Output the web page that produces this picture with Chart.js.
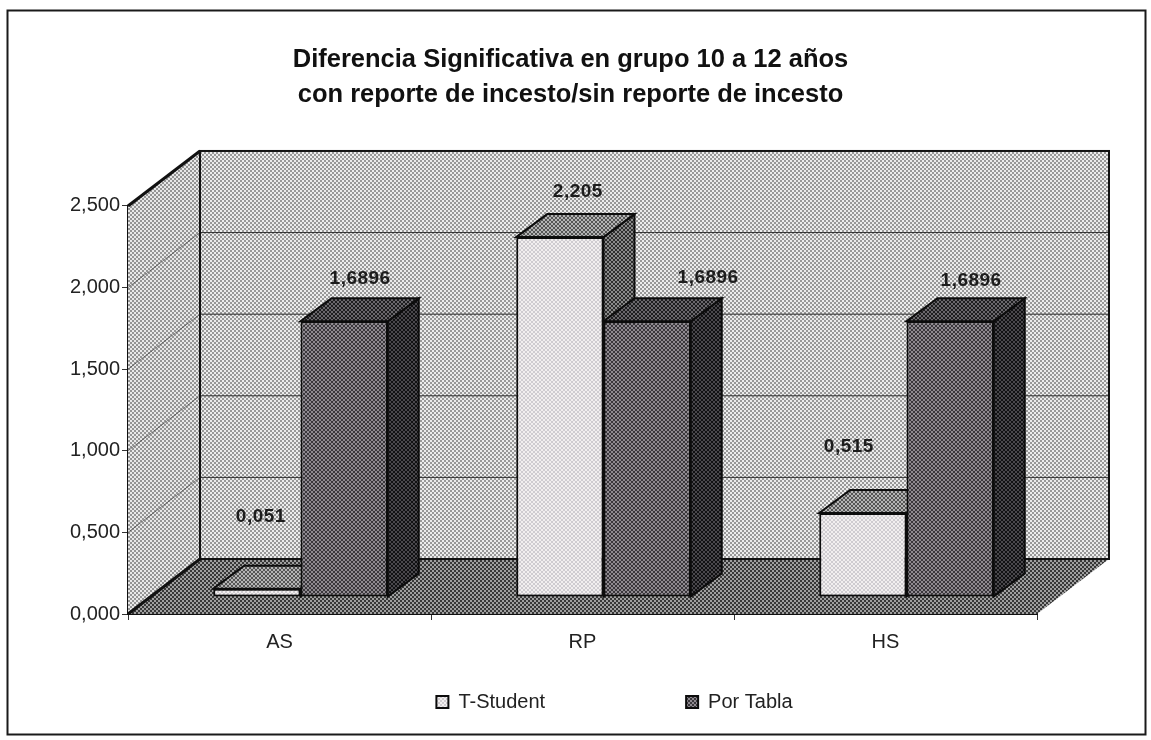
<!DOCTYPE html>
<html>
<head>
<meta charset="utf-8">
<style>html,body{margin:0;padding:0;background:#fff}canvas{display:block}</style>
<script src="https://cdn.jsdelivr.net/npm/chart.js@4"></script>
</head>
<body>
<canvas id="c" width="1151" height="740"></canvas>
<script>
const categories = ['AS', 'RP', 'HS'];
const tStudent = [0.051, 2.205, 0.515];
const porTabla = [1.6896, 1.6896, 1.6896];
const tStudentLabels = ['0,051', '2,205', '0,515'];
const porTablaLabels = ['1,6896', '1,6896', '1,6896'];
const seriesNames = ['T-Student', 'Por Tabla'];
const titleLines = ['Diferencia Significativa en grupo 10 a 12 años', 'con reporte de incesto/sin reporte de incesto'];

function dither(light, dark) {
  const p = document.createElement('canvas');
  p.width = 4; p.height = 4;
  const g = p.getContext('2d');
  g.fillStyle = light; g.fillRect(0, 0, 4, 4);
  g.fillStyle = dark; g.fillRect(0, 0, 2, 2); g.fillRect(2, 2, 2, 2);
  return g.createPattern(p, 'repeat');
}
const fills = {
  wall: dither('#ececec', '#989898'),
  side: dither('#e8e8e8', '#949494'),
  floor: dither('#a0a0a0', '#383838'),
  front: [dither('#f2efef', '#cfccd0'), dither('#8f8a90', '#3a373c')],
  top: [dither('#b4b4b4', '#555555'), dither('#6a686c', '#1e1e20')],
  right: [dither('#8a8a8a', '#2e2e2e'), dither('#4a484c', '#111113')]
};

const DEPTH = {x: 72, y: -55};
const BAR_DEPTH = {x: 31, y: -23};
const BAR_SHIFT = {x: 21, y: -17};
const LABEL_NUDGE = [
  [{x: 4, y: -72}, {x: 18, y: -45}, {x: -14, y: -66}],
  [{x: 16, y: -42}, {x: 61, y: -43}, {x: 21, y: -40}]
];

function poly(c, pts, fill, stroke, lw) {
  c.beginPath();
  pts.forEach((p, i) => i ? c.lineTo(p[0], p[1]) : c.moveTo(p[0], p[1]));
  c.closePath();
  if (fill) { c.fillStyle = fill; c.fill(); }
  if (stroke) { c.strokeStyle = stroke; c.lineWidth = lw || 1; c.stroke(); }
}

const scene3d = {
  id: 'scene3d',
  afterLayout(chart) {
    chart.titleBlock.left += 52; chart.titleBlock.right += 52;
    chart.legend.left += 96; chart.legend.right += 96;
    chart.legend.top = 702 - 10 - chart.options.plugins.legend.labels.padding;
  },
  beforeDraw(chart) {
    const c = chart.ctx;
    c.save();
    c.fillStyle = '#ffffff'; c.fillRect(0, 0, chart.width, chart.height);
    c.strokeStyle = '#1a1a1a'; c.lineWidth = 2;
    c.strokeRect(7.5, 10.5, 1138, 724);
    c.restore();
  },
  beforeDatasetsDraw(chart) {
    const c = chart.ctx, a = chart.chartArea, yS = chart.scales.y;
    const dx = DEPTH.x, dy = DEPTH.y;
    c.save();
    poly(c, [[a.left, a.top], [a.left + dx, a.top + dy], [a.left + dx, a.bottom + dy], [a.left, a.bottom]], fills.side);
    poly(c, [[a.left + dx, a.top + dy], [a.right + dx, a.top + dy], [a.right + dx, a.bottom + dy], [a.left + dx, a.bottom + dy]], fills.wall);
    poly(c, [[a.left, a.bottom], [a.right, a.bottom], [a.right + dx, a.bottom + dy], [a.left + dx, a.bottom + dy]], fills.floor);
    yS.ticks.forEach(t => {
      const y = yS.getPixelForValue(t.value);
      if (t.value > 0 && t.value < yS.max) {
        c.beginPath();
        c.moveTo(a.left, y); c.lineTo(a.left + dx, y + dy);
        c.strokeStyle = 'rgba(40,40,40,0.55)'; c.lineWidth = 1; c.stroke();
        c.beginPath();
        c.moveTo(a.left + dx, y + dy); c.lineTo(a.right + dx, y + dy);
        c.strokeStyle = 'rgba(20,20,20,0.85)'; c.stroke();
      }
    });
    c.strokeStyle = '#111'; c.lineWidth = 2;
    c.strokeRect(a.left + dx, a.top + dy, a.right - a.left, a.bottom - a.top);
    c.lineWidth = 3;
    c.beginPath(); c.moveTo(a.left, a.top); c.lineTo(a.left + dx, a.top + dy); c.stroke();
    c.beginPath(); c.moveTo(a.left, a.bottom); c.lineTo(a.left + dx, a.bottom + dy); c.stroke();
    // bar sides and tops: T-Student first, Por Tabla over it; fronts follow from the library
    c.translate(BAR_SHIFT.x, BAR_SHIFT.y);
    const bx = BAR_DEPTH.x, by = BAR_DEPTH.y;
    [0, 1].forEach(i => {
      chart.getDatasetMeta(i).data.forEach(el => {
        const l = el.x - el.width / 2, r = el.x + el.width / 2, t = el.y, b = el.base;
        poly(c, [[r, t], [r + bx, t + by], [r + bx, b + by], [r, b]], fills.right[i], '#0c0c0c', 2);
        poly(c, [[l, t], [r, t], [r + bx, t + by], [l + bx, t + by]], fills.top[i], '#0c0c0c', 2);
      });
    });
    c.restore();
  },
  beforeDatasetDraw(chart) {
    chart.ctx.save();
    chart.ctx.translate(BAR_SHIFT.x, BAR_SHIFT.y);
  },
  afterDatasetDraw(chart) {
    chart.ctx.restore();
  },
  afterDatasetsDraw(chart) {
    const c = chart.ctx;
    c.save();
    c.font = 'bold 19px "Liberation Sans"';
    c.letterSpacing = '0.5px';
    c.textAlign = 'center'; c.textBaseline = 'middle';
    c.fillStyle = '#1c1c1c';
    [tStudentLabels, porTablaLabels].forEach((labels, i) => {
      chart.getDatasetMeta(i).data.forEach((el, j) => {
        const n = LABEL_NUDGE[i][j];
        c.fillText(labels[j], el.x + BAR_SHIFT.x + n.x, el.y + BAR_SHIFT.y + n.y);
      });
    });
    c.restore();
  }
};

new Chart(document.getElementById('c'), {
  type: 'bar',
  data: {
    labels: categories,
    datasets: [
      {label: seriesNames[0], data: tStudent, backgroundColor: fills.front[0], borderColor: '#0c0c0c', borderWidth: 2, borderSkipped: false},
      {label: seriesNames[1], data: porTabla, backgroundColor: fills.front[1], borderColor: '#0c0c0c', borderWidth: 2, borderSkipped: false}
    ]
  },
  options: {
    responsive: false,
    animation: false,
    devicePixelRatio: 1,
    layout: {padding: {left: 0, right: 114, top: 0, bottom: 0}},
    datasets: {bar: {categoryPercentage: 0.576, barPercentage: 1}},
    plugins: {
      title: {
        display: true,
        text: titleLines,
        color: '#111',
        font: {family: '"Liberation Sans"', size: 25.5, weight: 'bold', lineHeight: 1.372},
        padding: {top: 42, bottom: 94}
      },
      legend: {
        display: true,
        position: 'bottom',
        maxHeight: 30,
        labels: {
          boxWidth: 12, boxHeight: 12, padding: 141,
          color: '#222',
          font: {family: '"Liberation Sans"', size: 20}
        }
      },
      tooltip: {enabled: false}
    },
    scales: {
      x: {
        offset: true,
        afterFit(s) { s.height = 96; },
        border: {color: '#111', width: 2},
        grid: {offset: true, drawOnChartArea: false, drawTicks: true, tickLength: 6, color: '#333'},
        ticks: {color: '#222', padding: 10, font: {family: '"Liberation Sans"', size: 20}}
      },
      y: {
        min: 0, max: 2.5,
        afterFit(s) { s.width = 128; },
        border: {color: '#111', width: 2},
        grid: {drawOnChartArea: false, drawTicks: true, tickLength: 6, color: '#333'},
        ticks: {
          stepSize: 0.5, color: '#222', padding: 2,
          font: {family: '"Liberation Sans"', size: 20},
          callback: v => v.toFixed(3).replace('.', ',')
        }
      }
    }
  },
  plugins: [scene3d]
});
</script>
</body>
</html>
